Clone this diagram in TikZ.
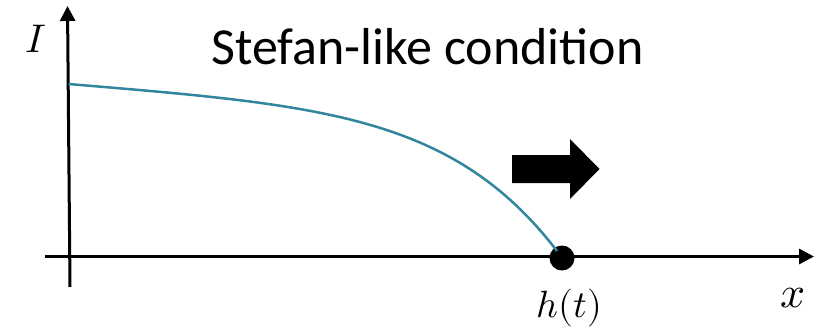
\documentclass[tikz,border=0pt]{standalone}
\usepackage{fontspec}
\usepackage{unicode-math}
\setmathfont{Latin Modern Math}
\newfontfamily\titlefont{Carlito}
\usetikzlibrary{arrows.meta}
\definecolor{curveteal}{RGB}{49,133,156}
\begin{document}
\begin{tikzpicture}[x=1pt,y=-1pt,
  axisline/.style={line width=3pt,-{Triangle[length=15pt,width=15pt]}},
  curveline/.style={line width=2.5pt,curveteal},
  mathlbl/.style={inner sep=0pt,anchor=base},
  blockarrow/.style={fill=black,draw=none}]
\useasboundingbox (0,0) rectangle (833,329);
\coordinate (ybot) at (70,287);
\coordinate (ytop) at (67.5,6);
\coordinate (xleft) at (45,256.5);
\coordinate (xright) at (814,256.5);
\draw[axisline] (ybot) -- (ytop);
\draw[axisline] (xleft) -- (xright);
\coordinate (cstart) at (68.5,84);
\node[circle,fill=black,inner sep=0pt,minimum size=25pt] (front) at (562,258) {};
\draw[curveline] (cstart) .. controls (318,105) and (452,114) .. (557,251);
\fill[blockarrow] (512,155) -- (570,155) -- (570,139) -- (599.5,169) -- (570,199) -- (570,183) -- (512,183) -- cycle;
\node[inner sep=0pt,anchor=base] (title) at (427.5,65) {\titlefont\fontsize{52}{60}\selectfont Stefan-like condition};
\node[mathlbl] (ilbl) at (36,53) {\fontsize{40}{48}\selectfont $I$};
\node[mathlbl] (hlbl) at (569.5,317) {\fontsize{38}{46}\selectfont $h(t)$};
\node[mathlbl] (xlbl) at (793.5,307) {\fontsize{44}{52}\selectfont $x$};
\end{tikzpicture}
\end{document}
